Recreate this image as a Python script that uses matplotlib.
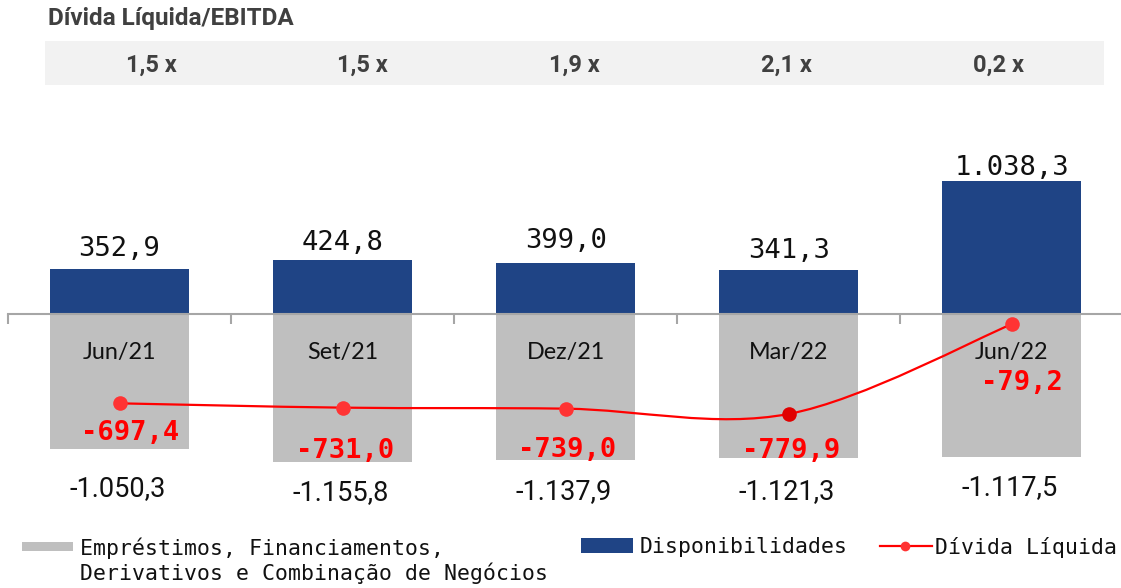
import matplotlib
matplotlib.use("Agg")
import matplotlib.pyplot as plt
import numpy as np
from matplotlib.path import Path
from matplotlib.patches import PathPatch, Rectangle
from matplotlib.lines import Line2D

categories = ["Jun/21", "Set/21", "Dez/21", "Mar/22", "Jun/22"]
ratios = ["1,5 x", "1,5 x", "1,9 x", "2,1 x", "0,2 x"]
disponibilidades = [352.9, 424.8, 399.0, 341.3, 1038.3]
emprestimos = [-1050.3, -1155.8, -1137.9, -1121.3, -1117.5]
divida_liquida = [-697.4, -731.0, -739.0, -779.9, -79.2]

def fmt(v):
    s = f"{abs(v):,.1f}".replace(",", "X").replace(".", ",").replace("X", ".")
    return ("-" if v < 0 else "") + s

W, H = 1121, 588
fig = plt.figure(figsize=(W / 100, H / 100), dpi=100)

def fx(px):
    return px / W

def fy(py):
    return 1 - py / H

BLUE = "#1f4485"
GRAY = "#bfbfbf"
RED = "#ff0000"

ax_top, ax_bot = 110, 500
ax = fig.add_axes([fx(8), fy(ax_bot), 1 - fx(8), (ax_bot - ax_top) / H])
scale = 0.1281
ax.set_xlim(-0.5, (W - 120) / 223)
ax.set_ylim(-(ax_bot - 314) / scale, (314 - ax_top) / scale)

x = np.arange(len(categories))
bw = 0.623
ax.bar(x, emprestimos, width=bw, color=GRAY, zorder=1)
ax.bar(x, disponibilidades, width=bw, color=BLUE, zorder=1)

# spines / ticks
for s in ["top", "right", "left"]:
    ax.spines[s].set_visible(False)
ax.spines["bottom"].set_position(("data", 0))
ax.spines["bottom"].set_color("#a6a6a6")
ax.spines["bottom"].set_linewidth(1.5)
ax.spines["bottom"].set_zorder(3)
ax.set_yticks([])
ax.set_xticks([])
ax.set_xticks(np.arange(-0.5, len(categories) - 0.5, 1.0), minor=True)
ax.tick_params(axis="x", which="minor", direction="out", length=7, width=1.5,
               color="#a6a6a6", labelbottom=False)

# smoothed line (Catmull-Rom -> Bezier)
pts = np.column_stack([x, divida_liquida]).astype(float)
ext = np.vstack([pts[0], pts, pts[-1]])
verts = [tuple(pts[0])]
codes = [Path.MOVETO]
for i in range(len(pts) - 1):
    p0, p1, p2, p3 = ext[i], ext[i + 1], ext[i + 2], ext[i + 3]
    c1 = p1 + (p2 - p0) / 6
    c2 = p2 - (p3 - p1) / 6
    verts += [tuple(c1), tuple(c2), tuple(p2)]
    codes += [Path.CURVE4] * 3
ax.add_patch(PathPatch(Path(verts, codes), fill=False, edgecolor=RED, lw=1.6, zorder=4))
mcolors = ["#ff3333", "#ff3333", "#ff3333", "#e00000", "#ff3333"]
for xi, yi, mc in zip(x, divida_liquida, mcolors):
    ax.plot([xi], [yi], "o", color=mc, ms=10.5, zorder=5, mec="none")

mono = "DejaVu Sans Mono"
# blue labels
blue_gap = [13, 10, 15, 12, 6]
for xi, v, g in zip(x, disponibilidades, blue_gap):
    ax.annotate(fmt(v), (xi, v), xytext=(0, g), textcoords="offset pixels",
                ha="center", va="baseline", fontsize=19.5, family=mono, color="#111111")
# category labels
for xi, c in zip(x, categories):
    ax.annotate(c, (xi, 0), xytext=(0, -38), textcoords="offset pixels",
                ha="center", va="center", fontsize=16.8, family="Lato", color="#111111")
# red labels
red_dx = [11, 2, 1, 2, 10]
red_dy = [-30, -43, -41, -37, -59]
for xi, v, dx, dy in zip(x, divida_liquida, red_dx, red_dy):
    ax.annotate(fmt(v), (xi, v), xytext=(dx, dy), textcoords="offset pixels",
                ha="center", va="center", fontsize=19.5, family=mono,
                fontweight="bold", color=RED, zorder=6)
# gray labels
gray_dy = [-40, -30, -32, -34, -30]
for xi, v, dy in zip(x, emprestimos, gray_dy):
    ax.annotate(fmt(v), (xi, v), xytext=(-2, dy), textcoords="offset pixels",
                ha="center", va="center", fontsize=19.5, family="Roboto", color="#111111")

# title and ratio band
fig.text(fx(48), fy(19), "Dívida Líquida/EBITDA", ha="left", va="center",
         fontsize=17.5, fontweight="bold", family="Roboto", color="#404040")
fig.add_artist(Rectangle((fx(45), fy(85)), fx(1104) - fx(45), (85 - 41) / H,
                         transform=fig.transFigure, color="#f2f2f2", lw=0, zorder=0))
cell = (1104 - 45) / len(ratios)
for i, r in enumerate(ratios):
    fig.text(fx(45 + cell * (i + 0.5)), fy(65), r, ha="center", va="center",
             fontsize=17, fontweight="bold", family="Roboto", color="#404040")

# legend
LFS = 15.5
fig.add_artist(Rectangle((fx(22), fy(551)), fx(73) - fx(22), 9 / H,
                         transform=fig.transFigure, color=GRAY, lw=0))
fig.text(fx(80), fy(561), "Empréstimos, Financiamentos,\nDerivativos e Combinação de Negócios",
         ha="left", va="center", fontsize=LFS, family=mono, color="#111111",
         linespacing=1.22)
fig.add_artist(Rectangle((fx(581), fy(553)), fx(633) - fx(581), 15 / H,
                         transform=fig.transFigure, color=BLUE, lw=0))
fig.text(fx(640), fy(547), "Disponibilidades", ha="left", va="center",
         fontsize=LFS, family=mono, color="#111111")
fig.add_artist(Line2D([fx(880), fx(932)], [fy(546), fy(546)], transform=fig.transFigure,
                      color=RED, lw=1.6))
fig.add_artist(Line2D([fx(905)], [fy(546)], transform=fig.transFigure, marker="o",
                      ms=7, color="#ff3333", mec="none"))
fig.text(fx(935), fy(547), "Dívida Líquida", ha="left", va="center",
         fontsize=LFS, family=mono, color="#111111")

fig.savefig("out.png", dpi=100)
